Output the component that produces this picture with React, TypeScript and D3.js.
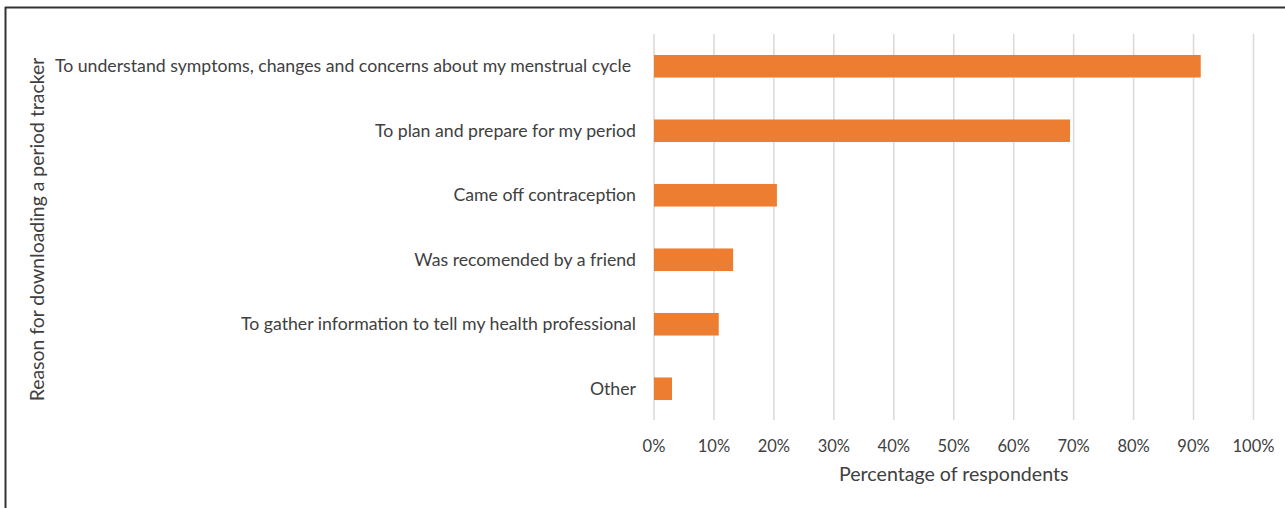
import React from "react";
import * as d3 from "d3";

const reasons = [
  "To understand symptoms, changes and concerns about my menstrual cycle",
  "To plan and prepare for my period",
  "Came off contraception",
  "Was recomended by a friend",
  "To gather information to tell my health professional",
  "Other",
];
const shares = [91.2, 69.4, 20.5, 13.2, 10.8, 3.0];
const ticks = [0, 10, 20, 30, 40, 50, 60, 70, 80, 90, 100];

const width = 1285;
const height = 508;
const plot = { left: 654, right: 1253.5, top: 34, bottom: 421 };
const font = "Lato, 'Open Sans', sans-serif";
const textColor = "#404040";

const App = () => {
  const x = d3.scaleLinear().domain([0, 100]).range([plot.left, plot.right]);
  const y = d3
    .scaleBand()
    .domain(reasons)
    .range([plot.top, plot.bottom])
    .paddingInner(0.65)
    .paddingOuter(0.325);

  return (
    <svg
      width={width}
      height={height}
      style={{ position: "absolute", left: 0, top: 0, background: "#fff" }}
      fontFamily={font}
    >
      <line x1={5.5} x2={5.5} y1={7} y2={height} stroke="#333" strokeWidth={2} />
      <line x1={5} x2={width} y1={7.5} y2={7.5} stroke="#333" strokeWidth={2} />

      {ticks.map((t) => (
        <line
          key={"g" + t}
          x1={x(t)}
          x2={x(t)}
          y1={plot.top}
          y2={plot.bottom - 1}
          stroke="#d9d9d9"
          strokeWidth={1.5}
        />
      ))}

      {reasons.map((r, i) => (
        <rect
          key={r}
          x={x(0)}
          y={y(r)}
          width={x(shares[i]) - x(0)}
          height={y.bandwidth()}
          fill="#ed7d31"
        />
      ))}

      {reasons.map((r, i) => (
        <text
          key={"l" + r}
          x={plot.left - (i === 0 ? 23 : 18)}
          y={(y(r) as number) + y.bandwidth() / 2}
          dy="0.35em"
          textAnchor="end"
          fontSize={17.7}
          fill={textColor}
        >
          {r}
        </text>
      ))}

      {ticks.map((t) => (
        <text
          key={"t" + t}
          x={x(t)}
          y={452}
          textAnchor="middle"
          fontSize={16.5}
          fill={textColor}
        >
          {t + "%"}
        </text>
      ))}

      <text
        x={(plot.left + plot.right) / 2}
        y={481}
        textAnchor="middle"
        fontSize={19.6}
        fill={textColor}
      >
        Percentage of respondents
      </text>

      <text
        transform={`translate(44, ${(plot.top + plot.bottom) / 2 + 2}) rotate(-90)`}
        textAnchor="middle"
        fontSize={19.4}
        fill={textColor}
      >
        Reason for downloading a period tracker
      </text>
    </svg>
  );
};

export default App;
